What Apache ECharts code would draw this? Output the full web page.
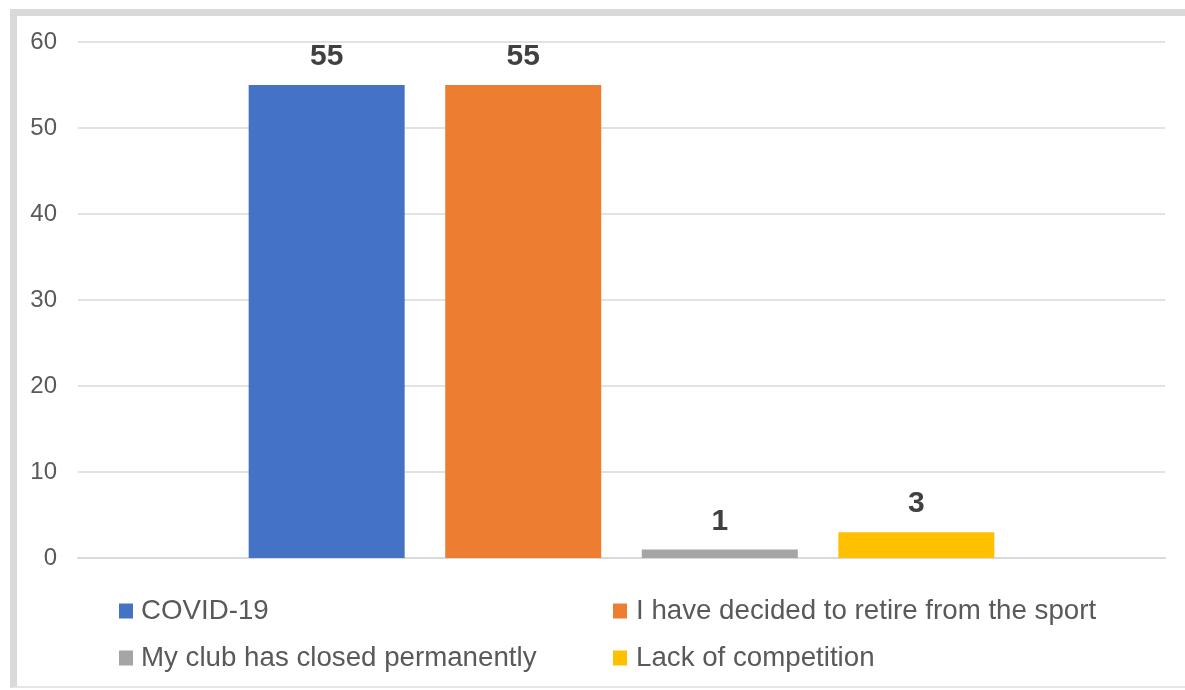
<!DOCTYPE html>
<html><head><meta charset="utf-8">
<script src="https://cdn.jsdelivr.net/npm/echarts@6/dist/echarts.min.js"></script>
<style>
html,body{margin:0;padding:0;background:#fff;}
#frame{position:absolute;left:10px;top:9px;width:1175px;height:679px;border-top:7px solid #d9d9d9;border-left:7px solid #d9d9d9;border-bottom:2px solid #e6e6e6;box-sizing:border-box;}
#c{position:absolute;left:0;top:0;width:1185px;height:690px;}
</style></head>
<body><div id="frame"></div><div id="c"></div>
<script>
const categories = [''];
const seriesNames = ['COVID-19','I have decided to retire from the sport','My club has closed permanently','Lack of competition'];
const seriesValues = [[55],[55],[1],[3]];
const seriesColors = ['#4472c4','#ed7d31','#a5a5a5','#ffc000'];
const yTicks = {min:0,max:60,interval:10};

const FONT = 'Liberation Sans, Arial, sans-serif';
const chart = echarts.init(document.getElementById('c'));
const legendText = {fontSize:27.7,color:'#595959',fontFamily:FONT,lineHeight:30};
chart.setOption({
  animation:false,
  grid:{left:78,right:20,top:42,bottom:132},
  xAxis:{type:'category',data:categories,axisLine:{lineStyle:{color:'#d9d9d9',width:2}},axisTick:{show:false},axisLabel:{show:false}},
  yAxis:{type:'value',min:yTicks.min,max:yTicks.max,interval:yTicks.interval,
    axisLine:{show:false},axisTick:{show:false},
    axisLabel:{fontSize:24,color:'#595959',margin:21,fontFamily:FONT},
    splitLine:{lineStyle:{color:'#d9d9d9',width:1.5}}},
  legend:[
    {data:[seriesNames[0],seriesNames[2]],orient:'vertical',left:119,top:596,padding:0,itemWidth:14,itemHeight:15,itemGap:17,icon:'rect',textStyle:Object.assign({},legendText,{padding:[0,0,0,3]})},
    {data:[seriesNames[1],seriesNames[3]],orient:'vertical',left:613,top:596,padding:0,itemWidth:14,itemHeight:15,itemGap:17,icon:'rect',textStyle:Object.assign({},legendText,{padding:[0,0,0,4]})}
  ],
  series: seriesNames.map((n,i)=>({
    name:n,type:'bar',data:seriesValues[i],barWidth:156,barGap:'26%',
    itemStyle:{color:seriesColors[i]},
    label:{show:true,position:'top',distance:13,fontSize:30,fontWeight:'bold',color:'#404040',fontFamily:FONT}
  }))
});
</script></body></html>
